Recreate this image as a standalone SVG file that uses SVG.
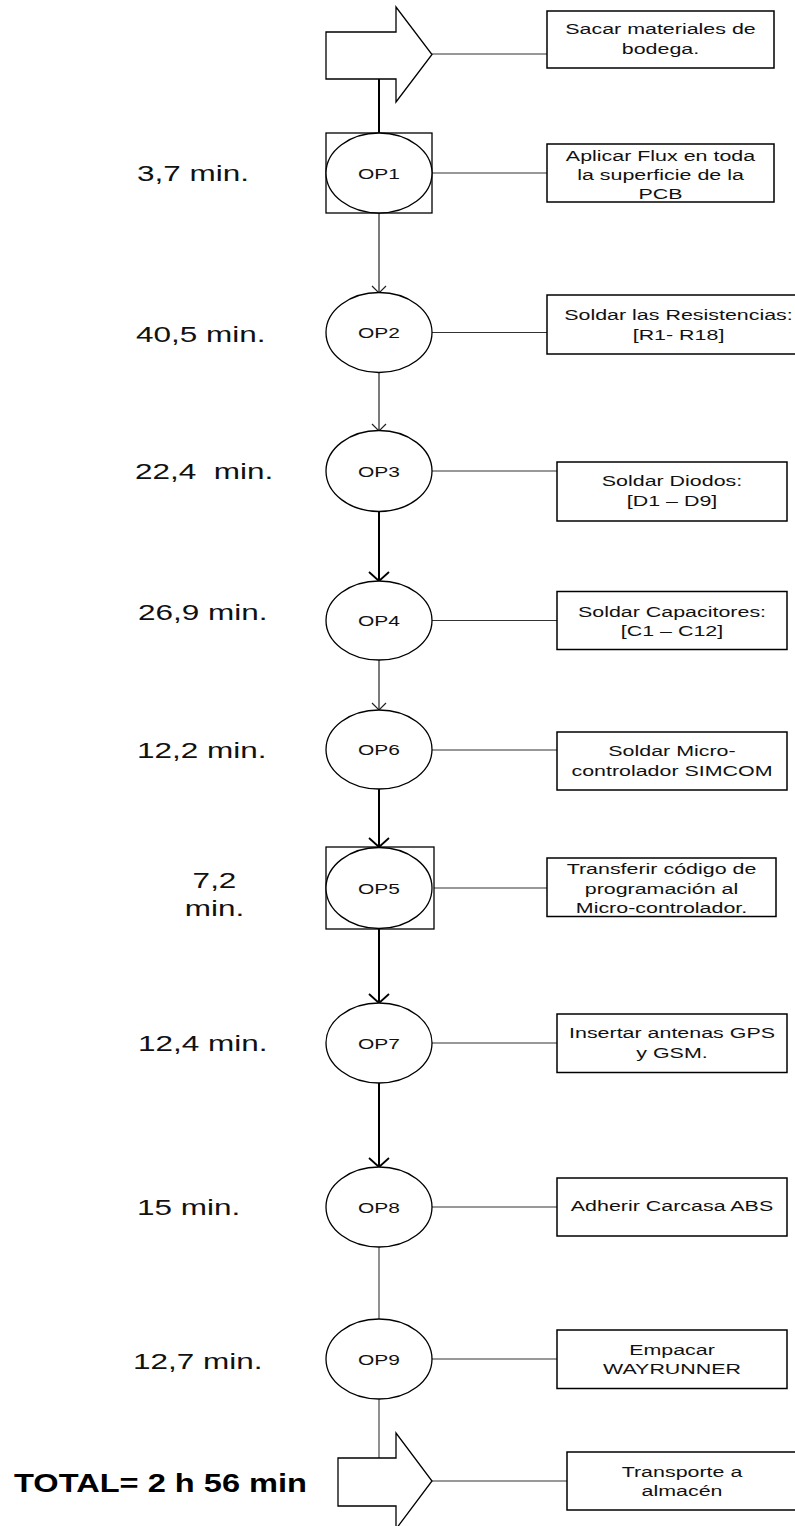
<svg xmlns="http://www.w3.org/2000/svg" width="795" height="1526" viewBox="0 0 795 1526">
<style>
.bg{fill:#fff}
.shape{fill:#fff;stroke:#000;stroke-width:1.3}
.box{fill:#fff;stroke:#000;stroke-width:1.5}
.link{stroke:#333;stroke-width:1.1;fill:none}
.flow{stroke:#222;stroke-width:1.2;fill:none}
.flowb{stroke:#000;stroke-width:2;fill:none}
.flowg{stroke:#555;stroke-width:1.3;fill:none}
.t{font-family:"Liberation Sans",Arial,sans-serif;font-size:15.3px;fill:#111;text-anchor:middle}
.op{font-family:"Liberation Sans",Arial,sans-serif;font-size:15px;fill:#111;text-anchor:middle}
.lbl{font-family:"Liberation Sans",Arial,sans-serif;font-size:22.5px;fill:#111;white-space:pre}
.tot{font-family:"Liberation Sans",Arial,sans-serif;font-size:26px;font-weight:bold;fill:#000}
</style>
<defs>
<marker id="arr" markerUnits="userSpaceOnUse" markerWidth="20" markerHeight="20" viewBox="-10 -10 20 20" refX="0" refY="0" orient="auto">
<path d="M-7,-7 L0,0 L-7,7" fill="none" stroke="#222" stroke-width="1.2"/>
</marker>
<marker id="arrb" markerUnits="userSpaceOnUse" markerWidth="24" markerHeight="24" viewBox="-12 -12 24 24" refX="0" refY="0" orient="auto">
<path d="M-9,-10 L0,0 L-9,10" fill="none" stroke="#000" stroke-width="1.8"/>
</marker>
</defs>
<rect class="bg" x="0" y="0" width="795" height="1526"/>

<g id="connectors">
<line class="flowb" x1="379" y1="79" x2="379" y2="133"/>
<line class="flow" x1="379" y1="213" x2="379" y2="293" marker-end="url(#arr)"/>
<line class="flow" x1="379" y1="373" x2="379" y2="431" marker-end="url(#arr)"/>
<line class="flowb" x1="379" y1="511" x2="379" y2="581" marker-end="url(#arrb)"/>
<line class="flow" x1="379" y1="660" x2="379" y2="710" marker-end="url(#arr)"/>
<line class="flowb" x1="379" y1="789" x2="379" y2="847" marker-end="url(#arrb)"/>
<line class="flowb" x1="379" y1="929" x2="379" y2="1003" marker-end="url(#arrb)"/>
<line class="flowb" x1="379" y1="1083" x2="379" y2="1167" marker-end="url(#arrb)"/>
<line class="flowg" x1="379" y1="1247" x2="379" y2="1319"/>
<line class="flowg" x1="379" y1="1399" x2="379" y2="1458"/>
<line class="link" x1="432" y1="54" x2="547" y2="54"/>
<line class="link" x1="432" y1="173" x2="547" y2="173"/>
<line class="link" x1="432" y1="332.5" x2="547" y2="332.5"/>
<line class="link" x1="432" y1="471" x2="557" y2="471"/>
<line class="link" x1="432" y1="620.5" x2="557" y2="620.5"/>
<line class="link" x1="432" y1="750" x2="557" y2="750"/>
<line class="link" x1="432" y1="888" x2="547" y2="888"/>
<line class="link" x1="432" y1="1043" x2="557" y2="1043"/>
<line class="link" x1="432" y1="1207" x2="557" y2="1207"/>
<line class="link" x1="432" y1="1359" x2="557" y2="1359"/>
<line class="link" x1="432" y1="1481" x2="567" y2="1481"/>
</g>

<g id="start">
<polygon class="shape" points="326,32 396,32 396,7 432,54.5 396,102 396,79 326,79"/>
</g>
<g id="box-start">
<rect class="box" x="547" y="11" width="227" height="57"/>
<text class="t" transform="translate(660.5,34) scale(1.4,1)">Sacar materiales de</text>
<text class="t" transform="translate(660.5,54) scale(1.4,1)">bodega.</text>
</g>

<g id="op1">
<rect class="shape" x="326" y="133" width="106" height="80"/>
<ellipse class="shape" cx="379" cy="173" rx="53" ry="40"/>
<text class="op" transform="translate(379,178.5) scale(1.4,1)">OP1</text>
</g>
<g id="box-op1">
<rect class="box" x="547" y="144" width="227" height="58"/>
<text class="t" transform="translate(660.5,161) scale(1.4,1)">Aplicar Flux en toda</text>
<text class="t" transform="translate(660.5,180) scale(1.4,1)">la superficie de la</text>
<text class="t" transform="translate(660.5,199) scale(1.4,1)">PCB</text>
</g>

<g id="op2">
<ellipse class="shape" cx="379" cy="332.5" rx="53" ry="40"/>
<text class="op" transform="translate(379,338) scale(1.4,1)">OP2</text>
</g>
<g id="box-op2">
<rect class="box" x="547" y="295" width="263" height="59"/>
<text class="t" transform="translate(678.5,320) scale(1.4,1)">Soldar las Resistencias:</text>
<text class="t" transform="translate(678.5,340) scale(1.4,1)">[R1- R18]</text>
</g>

<g id="op3">
<ellipse class="shape" cx="379" cy="471" rx="53" ry="40.5"/>
<text class="op" transform="translate(379,476.5) scale(1.4,1)">OP3</text>
</g>
<g id="box-op3">
<rect class="box" x="557" y="462" width="230" height="59"/>
<text class="t" transform="translate(672,486) scale(1.4,1)">Soldar Diodos:</text>
<text class="t" transform="translate(672,506) scale(1.4,1)">[D1 – D9]</text>
</g>

<g id="op4">
<ellipse class="shape" cx="379" cy="620.5" rx="53" ry="39.5"/>
<text class="op" transform="translate(379,626) scale(1.4,1)">OP4</text>
</g>
<g id="box-op4">
<rect class="box" x="557" y="591.5" width="230" height="58"/>
<text class="t" transform="translate(672,616.5) scale(1.4,1)">Soldar Capacitores:</text>
<text class="t" transform="translate(672,636) scale(1.4,1)">[C1 – C12]</text>
</g>

<g id="op6">
<ellipse class="shape" cx="379" cy="749.5" rx="53" ry="39.5"/>
<text class="op" transform="translate(379,755) scale(1.4,1)">OP6</text>
</g>
<g id="box-op6">
<rect class="box" x="557" y="732" width="230" height="58"/>
<text class="t" transform="translate(672,756) scale(1.4,1)">Soldar Micro-</text>
<text class="t" transform="translate(672,776) scale(1.4,1)">controlador SIMCOM</text>
</g>

<g id="op5">
<rect class="shape" x="326" y="847" width="108" height="82"/>
<ellipse class="shape" cx="379" cy="888" rx="53" ry="40.5"/>
<text class="op" transform="translate(379,893.5) scale(1.4,1)">OP5</text>
</g>
<g id="box-op5">
<rect class="box" x="547" y="858" width="229" height="58.5"/>
<text class="t" transform="translate(661.5,873.5) scale(1.4,1)">Transferir código de</text>
<text class="t" transform="translate(661.5,893.5) scale(1.4,1)">programación al</text>
<text class="t" transform="translate(661.5,912.5) scale(1.4,1)">Micro-controlador.</text>
</g>

<g id="op7">
<ellipse class="shape" cx="379" cy="1043" rx="53" ry="40"/>
<text class="op" transform="translate(379,1048.5) scale(1.4,1)">OP7</text>
</g>
<g id="box-op7">
<rect class="box" x="557" y="1014" width="230" height="58.5"/>
<text class="t" transform="translate(672,1037.5) scale(1.4,1)">Insertar antenas GPS</text>
<text class="t" transform="translate(672,1057.5) scale(1.4,1)">y GSM.</text>
</g>

<g id="op8">
<ellipse class="shape" cx="379" cy="1207" rx="53" ry="40"/>
<text class="op" transform="translate(379,1212.5) scale(1.4,1)">OP8</text>
</g>
<g id="box-op8">
<rect class="box" x="557" y="1178" width="230" height="58"/>
<text class="t" transform="translate(672,1211) scale(1.4,1)">Adherir Carcasa ABS</text>
</g>

<g id="op9">
<ellipse class="shape" cx="379" cy="1359" rx="53" ry="40"/>
<text class="op" transform="translate(379,1364.5) scale(1.4,1)">OP9</text>
</g>
<g id="box-op9">
<rect class="box" x="557" y="1330" width="230" height="58.5"/>
<text class="t" transform="translate(672,1355) scale(1.4,1)">Empacar</text>
<text class="t" transform="translate(672,1373.5) scale(1.4,1)">WAYRUNNER</text>
</g>

<g id="end">
<polygon class="shape" points="338,1458 396,1458 396,1433 432,1481 396,1529 396,1506 338,1506"/>
</g>
<g id="box-end">
<rect class="box" x="567" y="1452" width="230" height="58"/>
<text class="t" transform="translate(682,1477) scale(1.4,1)">Transporte a</text>
<text class="t" transform="translate(682,1496) scale(1.4,1)">almacén</text>
</g>

<g id="times">
<text class="lbl" transform="translate(137,181) scale(1.4,1)">3,7 min.</text>
<text class="lbl" transform="translate(136,341.5) scale(1.4,1)">40,5 min.</text>
<text class="lbl" transform="translate(135,479) scale(1.4,1)">22,4  min.</text>
<text class="lbl" transform="translate(138,620) scale(1.4,1)">26,9 min.</text>
<text class="lbl" transform="translate(137,758) scale(1.4,1)">12,2 min.</text>
<text class="lbl" transform="translate(214.5,888) scale(1.4,1)" text-anchor="middle">7,2</text>
<text class="lbl" transform="translate(214.5,916) scale(1.4,1)" text-anchor="middle">min.</text>
<text class="lbl" transform="translate(138,1051) scale(1.4,1)">12,4 min.</text>
<text class="lbl" transform="translate(137,1215) scale(1.4,1)">15 min.</text>
<text class="lbl" transform="translate(133,1369) scale(1.4,1)">12,7 min.</text>
<text class="tot" x="14" y="1492" textLength="293" lengthAdjust="spacingAndGlyphs">TOTAL= 2 h 56 min</text>
</g>
</svg>
